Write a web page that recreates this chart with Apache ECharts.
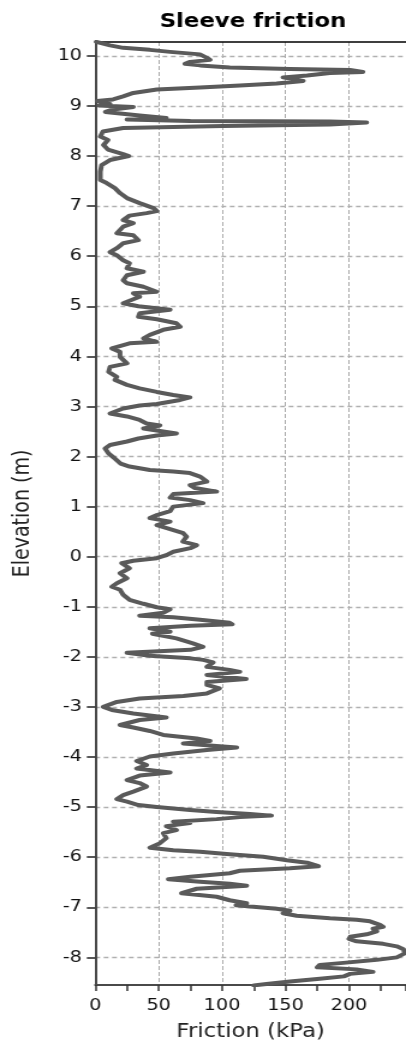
<!DOCTYPE html>
<html>
<head>
<meta charset="utf-8">
<script src="https://cdn.jsdelivr.net/npm/echarts@6/dist/echarts.min.js"></script>
<style>
html,body{margin:0;padding:0;background:#fff;overflow:hidden;}
#wrap{width:406px;height:1048px;overflow:hidden;position:relative;background:#fff;}
#chart{width:338px;height:1048px;transform:scaleX(1.20118);transform-origin:0 0;}
</style>
</head>
<body>
<div id="wrap"><div id="chart"></div></div>
<script>
// Elevation (m) along the profile, top to bottom
const elevation = [
 10.28,10.21,10.16,10.12,10.08,10.03,9.96,9.92,9.88,9.84,9.81,9.77,9.74,9.72,9.68,9.66,9.61,9.57,9.50,9.45,
 9.41,9.37,9.33,9.26,9.19,9.13,9.10,9.04,9.01,8.98,8.93,8.88,8.81,8.76,8.73,8.70,8.69,8.67,8.63,8.60,
 8.56,8.49,8.39,8.32,8.22,8.13,8.04,8.00,7.92,7.82,7.69,7.52,7.46,7.36,7.26,7.16,7.06,6.96,6.90,6.86,
 6.81,6.72,6.66,6.59,6.46,6.42,6.32,6.26,6.16,6.08,6.02,5.92,5.86,5.76,5.69,5.62,5.52,5.46,5.39,5.29,
 5.26,5.19,5.06,5.00,4.93,4.86,4.79,4.74,4.66,4.59,4.53,4.43,4.36,4.29,4.26,4.16,4.09,3.99,3.86,3.79,
 3.69,3.59,3.53,3.43,3.36,3.29,3.23,3.18,3.13,3.05,3.02,2.96,2.86,2.80,2.73,2.66,2.62,2.56,2.50,2.46,
 2.42,2.36,2.30,2.23,2.16,2.06,1.96,1.86,1.80,1.73,1.70,1.67,1.60,1.50,1.43,1.37,1.30,1.25,1.18,1.13,
 1.07,1.00,0.91,0.83,0.77,0.70,0.63,0.55,0.47,0.40,0.30,0.23,0.17,0.10,0.03,-0.03,-0.08,-0.13,-0.23,-0.33,
 -0.43,-0.53,-0.60,-0.66,-0.76,-0.86,-0.94,-1.01,-1.05,-1.12,-1.18,-1.21,-1.26,-1.32,-1.35,-1.38,-1.43,-1.50,-1.54,-1.63,
 -1.73,-1.80,-1.86,-1.92,-1.98,-2.03,-2.06,-2.11,-2.20,-2.26,-2.30,-2.36,-2.44,-2.50,-2.56,-2.63,-2.73,-2.78,-2.83,-2.90,
 -3.00,-3.06,-3.13,-3.21,-3.26,-3.36,-3.41,-3.48,-3.56,-3.63,-3.68,-3.73,-3.81,-3.86,-3.93,-3.99,-4.08,-4.16,-4.23,-4.31,
 -4.37,-4.46,-4.52,-4.59,-4.69,-4.76,-4.84,-4.89,-4.96,-5.00,-5.06,-5.10,-5.14,-5.17,-5.20,-5.24,-5.29,-5.32,-5.38,-5.46,
 -5.52,-5.62,-5.72,-5.81,-5.86,-5.89,-5.94,-5.99,-6.06,-6.11,-6.18,-6.22,-6.27,-6.32,-6.39,-6.44,-6.49,-6.53,-6.57,-6.63,
 -6.72,-6.79,-6.86,-6.92,-6.96,-6.99,-7.03,-7.07,-7.12,-7.17,-7.22,-7.25,-7.28,-7.35,-7.39,-7.43,-7.48,-7.54,-7.59,-7.63,
 -7.68,-7.73,-7.78,-7.84,-7.92,-8.00,-8.05,-8.11,-8.15,-8.20,-8.24,-8.29,-8.33,-8.38,-8.43,-8.48,-8.53,-8.56
];
// Sleeve friction (kPa) at each elevation
const friction = [
 0.8,11.6,22,43,59,82.6,88,90.5,74.7,70.7,82.6,106,153.5,201,211,185,167,148,164,143,
 114,82.6,48.5,30,22,14,1.5,11.6,3,30,14,8,35,56,25,75,185,214,185,101,
 22,6,4,10,6.5,10,22,26.5,11.6,5,4,4,9,15.5,19.5,25,35,46,48.5,40.5,
 27,22,30,22,17,30,34,22,17,11.6,17,22,27,25,38,25,22,25,38,48.5,
 30,35,22,34,59,35,34,48.5,64,67,53.6,43,38,48.5,27,13,19.5,19.5,25,11.6,
 10.5,17,15.5,25,35,48.5,61.5,74.7,67,48.5,35,22,11.6,25,35,40.5,51,38,53.6,64,
 48.5,34,25,11.6,7.7,10.5,15.5,20,27,43,61.5,74.7,82.6,88,74.7,78.6,95.7,61.5,59,74.7,
 85,61.5,59,48.5,43,59,48.5,59,69.4,72,69,80,75,61.5,56,48.5,30,20.8,27,19.5,
 25,17,13,19.5,22,27,38,48.5,59,53.6,35,61.5,82.6,106,108,75,43,59,45,64,
 77,85,75,25,43,75,85,93,88,106,114,88,119,88,88,98,88,69.4,35,17,
 6.3,13,30,56,35,19.5,30,43,53.6,80,90.5,69.4,111.5,88,61.5,43,32.6,40.5,32.6,59,
 35,25,35,40.5,30,22,17,25,34,48.5,74.7,95.7,122,139,114,95.7,61.5,74.7,56,64,
 53.6,56,51,43,61.5,82.6,106,132.5,151,167,176,153.5,114,106,75,57.6,82.6,106,119.4,80,
 68,95.7,106,119.4,111,124.6,143,153.5,148,158.8,185,206,216.6,224.5,227,219,222,214,201,200,
 206,227,237.7,243,244,237.7,222,195.6,177,175,206,219,201,196,175,153.5,135,125
];
const elevationTicks = [-8,-7,-6,-5,-4,-3,-2,-1,0,1,2,3,4,5,6,7,8,9,10];
const frictionTicks = [0,50,100,150,200];

const points = elevation.map((e, i) => [friction[i], e]);
const FONT = 'DejaVu Sans';

const chart = echarts.init(document.getElementById('chart'), null, {renderer: 'canvas'});
chart.setOption({
  animation: false,
  title: {
    text: 'Sleeve friction',
    left: 210.6,
    top: 13,
    padding: 0,
    textAlign: 'center',
    textStyle: {fontFamily: FONT, fontWeight: 'bold', fontSize: 19, color: '#000'}
  },
  grid: {left: 79.3, right: 0, top: 42, bottom: 63},
  xAxis: [{
    type: 'value',
    position: 'bottom',
    min: 0,
    max: 245,
    interval: 50,
    name: 'Friction (kPa)',
    nameLocation: 'middle',
    nameGap: 38,
    nameTextStyle: {fontFamily: FONT, fontSize: 19, color: '#222'},
    axisLine: {show: true, onZero: false, lineStyle: {color: '#4a4a4a', width: 2}},
    axisTick: {show: true, length: 6, lineStyle: {color: '#333', width: 1.5}},
    minorTick: {show: true, splitNumber: 2, length: 6, lineStyle: {color: '#333', width: 1.5}},
    axisLabel: {
      margin: 13, fontFamily: FONT, fontSize: 16, color: '#111',
      showMaxLabel: false,
      formatter: v => (frictionTicks.indexOf(v) >= 0 ? String(v) : '')
    },
    splitLine: {show: true, showMinLine: false, showMaxLine: false,
      lineStyle: {color: '#ababab', width: 1, type: 'dashed'}},
    minorSplitLine: {show: false}
  }, {
    type: 'value',
    position: 'top',
    min: 0,
    max: 245,
    interval: 50,
    axisLine: {show: true, onZero: false, lineStyle: {color: '#000', width: 1.5}},
    axisTick: {show: false},
    axisLabel: {show: false},
    splitLine: {show: false}
  }],
  yAxis: {
    type: 'value',
    min: -8.552,
    max: 10.277,
    name: 'Elevation (m)',
    nameLocation: 'middle',
    nameGap: 51,
    nameTextStyle: {fontFamily: FONT, fontSize: 19, color: '#222'},
    axisLine: {show: true, onZero: false, lineStyle: {color: '#4a4a4a', width: 2}},
    axisTick: {show: true, length: 7, customValues: elevationTicks, lineStyle: {color: '#222', width: 1.5}},
    axisLabel: {margin: 11, fontFamily: FONT, fontSize: 16, color: '#111', customValues: elevationTicks},
    splitLine: {show: true, lineStyle: {color: '#b0b0b0', width: 1.4, type: [4, 3]}}
  },
  series: [{
    type: 'line',
    name: 'Sleeve friction',
    xAxisIndex: 0,
    data: points,
    showSymbol: false,
    symbol: 'none',
    clip: true,
    silent: true,
    lineStyle: {color: '#5a5a5a', width: 4, join: 'round', cap: 'round'}
  }]
});
</script>
</body>
</html>
